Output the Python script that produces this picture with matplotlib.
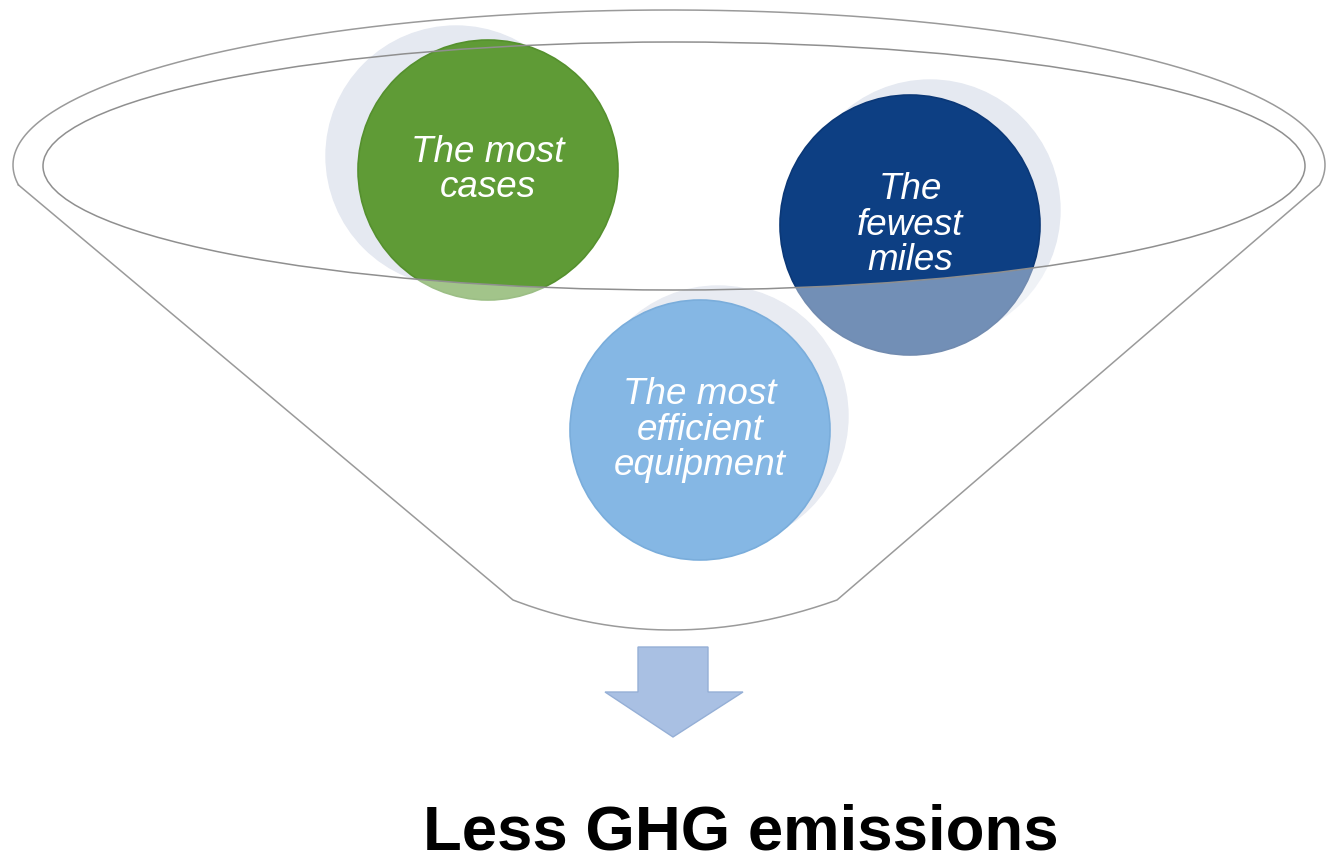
import numpy as np
import matplotlib.pyplot as plt
from matplotlib.patches import Circle, Ellipse, Polygon, PathPatch
from matplotlib.path import Path

# diagram content
labels = ["The most\ncases", "The\nfewest\nmiles", "The most\nefficient\nequipment"]
centers = [(488, 170), (910, 225), (700, 430)]
shadow_shift = [(-32, -14), (20, -15), (18, -14)]
fill_colors = ["#5f9b36", "#0d3f83", "#85b7e4"]
edge_colors = ["#55902e", "#0b3877", "#7aaddb"]
radius = 130
result_text = "Less GHG emissions"

W, H = 1328, 856
fig = plt.figure(figsize=(W / 100, H / 100), dpi=100)
ax = fig.add_axes([0, 0, 1, 1])
ax.set_xlim(0, W)
ax.set_ylim(H, 0)
ax.set_aspect("equal")
ax.axis("off")

# inner rim of funnel
cx, cy = 674, 166
ia, ib = 631, 124

# shadows + first two circles
for i in range(2):
    x, y = centers[i]
    dx, dy = shadow_shift[i]
    ax.add_patch(Circle((x + dx, y + dy), radius, color="#e5e9f1", zorder=1))
for i in range(2):
    ax.add_patch(Circle(centers[i], radius, facecolor=fill_colors[i],
                        edgecolor=edge_colors[i], lw=1.2, zorder=2))

# fade what hangs below the inner rim
t = np.linspace(0, np.pi, 150)
ex = cx + ia * np.cos(t)
ey = cy + ib * np.sin(t)
verts = [(0, cy), (0, H), (W, H), (W, cy)] + list(zip(ex, ey)) + [(0, cy)]
codes = [Path.MOVETO] + [Path.LINETO] * (len(verts) - 2) + [Path.CLOSEPOLY]
ax.add_patch(PathPatch(Path(verts, codes), facecolor="white", edgecolor="none",
                       alpha=0.42, zorder=3))

# third circle sits on top
x, y = centers[2]
dx, dy = shadow_shift[2]
ax.add_patch(Circle((x + dx, y + dy), radius, color="#e8ebf2", zorder=4))
ax.add_patch(Circle(centers[2], radius, facecolor=fill_colors[2],
                    edgecolor=edge_colors[2], lw=1.2, zorder=5))

# funnel outline
oc_x, oc_y, oa, ob = 669, 165, 656, 155
y0 = 185
th = np.arcsin((y0 - oc_y) / ob)
ang = np.linspace(np.pi - th, 2 * np.pi + th, 200)
arc_x = oc_x + oa * np.cos(ang)
arc_y = oc_y + ob * np.sin(ang)
bl, br = (513, 600), (837, 600)
u = np.linspace(0, 1, 60)
bez_x = (1 - u) ** 2 * br[0] + 2 * u * (1 - u) * 669 + u ** 2 * bl[0]
bez_y = (1 - u) ** 2 * br[1] + 2 * u * (1 - u) * 660 + u ** 2 * bl[1]
fx = np.concatenate([arc_x, bez_x, [arc_x[0]]])
fy = np.concatenate([arc_y, bez_y, [arc_y[0]]])
ax.plot(fx, fy, color="#9a9a9a", lw=1.1, zorder=6)
ax.add_patch(Ellipse((cx, cy), 2 * ia, 2 * ib, fill=False, edgecolor="#8f8f8f",
                     lw=1.1, zorder=6))

# circle labels
for (x, y), lab in zip(centers, labels):
    ax.text(x, y, lab, ha="center", va="center", color="white", fontsize=26.5,
            style="italic", family="Liberation Sans", linespacing=1.02, zorder=7)

# arrow
arrow = [(638, 647), (708, 647), (708, 692), (743, 692), (673, 737),
         (605, 692), (638, 692)]
ax.add_patch(Polygon(arrow, closed=True, facecolor="#a9c0e3",
                     edgecolor="#95afd6", lw=1, zorder=6))

ax.text(741, 850, result_text, ha="center", va="baseline", fontsize=45.7,
        fontweight="bold", family="Liberation Sans", color="black")

fig.savefig("out.png", dpi=100, facecolor="white")
